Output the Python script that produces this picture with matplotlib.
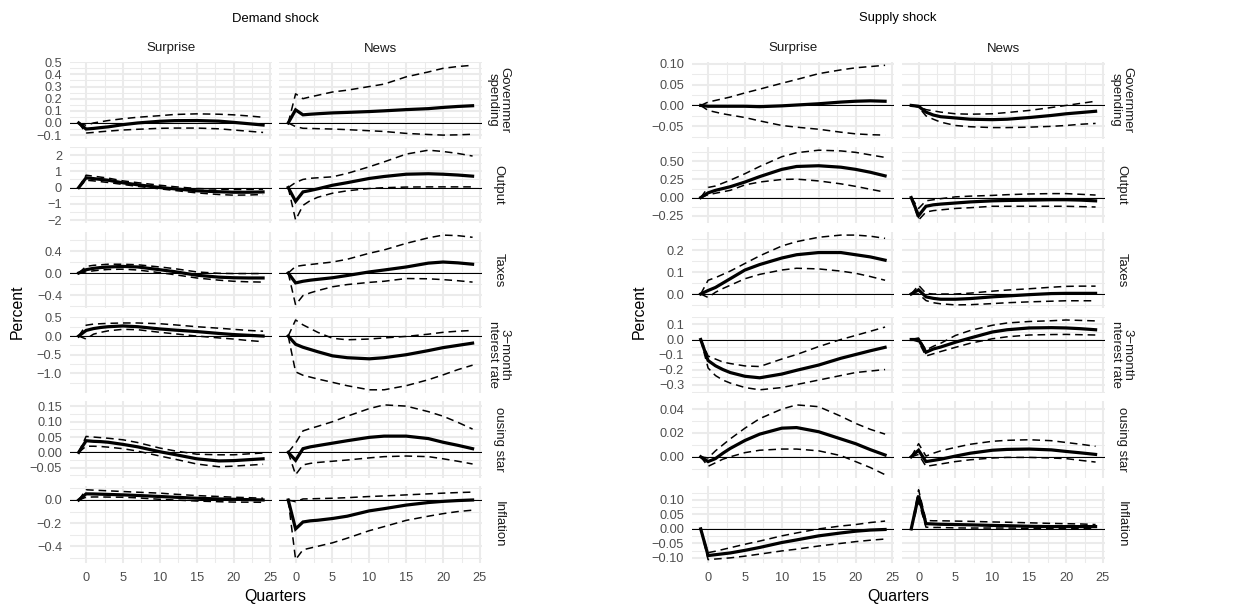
import matplotlib
matplotlib.use("Agg")
import matplotlib.pyplot as plt
from matplotlib.ticker import FixedLocator

plt.rcParams['font.family'] = ['Liberation Sans', 'DejaVu Sans']

# Impulse responses: point estimate plus lower/upper bands, quarters -1..24
quarters = [-1, 0, 1, 2, 3, 5, 7, 10, 12, 15, 18, 20, 22, 24]

# ---- Demand shock, surprise ----
dem_sur_gov = [0, -0.05, -0.045, -0.038, -0.032, -0.014, 0.0, 0.014, 0.019, 0.02, 0.015, 0.005, -0.006, -0.017]
dem_sur_gov_lo = [0, -0.083, -0.078, -0.072, -0.067, -0.058, -0.052, -0.044, -0.042, -0.042, -0.048, -0.058, -0.068, -0.078]
dem_sur_gov_hi = [0, -0.02, 0.0, 0.01, 0.02, 0.035, 0.047, 0.06, 0.07, 0.075, 0.072, 0.067, 0.058, 0.047]
dem_sur_out = [0, 0.6, 0.55, 0.5, 0.45, 0.29, 0.17, 0.0, -0.08, -0.2, -0.26, -0.29, -0.29, -0.27]
dem_sur_out_lo = [0, 0.45, 0.41, 0.36, 0.31, 0.19, 0.07, -0.08, -0.18, -0.33, -0.43, -0.47, -0.46, -0.43]
dem_sur_out_hi = [0, 0.76, 0.7, 0.64, 0.58, 0.41, 0.3, 0.14, 0.05, -0.06, -0.1, -0.12, -0.12, -0.1]
dem_sur_tax = [0, 0.06, 0.085, 0.1, 0.11, 0.12, 0.11, 0.06, 0.025, -0.04, -0.075, -0.086, -0.09, -0.09]
dem_sur_tax_lo = [0, 0.02, 0.04, 0.055, 0.065, 0.07, 0.055, 0.006, -0.03, -0.09, -0.13, -0.15, -0.16, -0.165]
dem_sur_tax_hi = [0, 0.12, 0.14, 0.15, 0.16, 0.16, 0.15, 0.11, 0.08, 0.02, -0.005, -0.01, -0.01, -0.01]
dem_sur_rate = [0, 0.15, 0.2, 0.23, 0.25, 0.27, 0.25, 0.19, 0.16, 0.12, 0.07, 0.04, 0.02, 0.0]
dem_sur_rate_lo = [0, -0.08, 0.05, 0.1, 0.14, 0.18, 0.17, 0.1, 0.06, 0.0, -0.05, -0.08, -0.12, -0.15]
dem_sur_rate_hi = [0, 0.29, 0.32, 0.33, 0.34, 0.35, 0.35, 0.33, 0.3, 0.25, 0.21, 0.18, 0.15, 0.13]
dem_sur_hous = [0, 0.038, 0.036, 0.035, 0.033, 0.026, 0.018, 0.002, -0.007, -0.021, -0.028, -0.027, -0.024, -0.021]
dem_sur_hous_lo = [0, 0.02, 0.02, 0.019, 0.017, 0.012, 0.004, -0.012, -0.022, -0.038, -0.047, -0.045, -0.042, -0.039]
dem_sur_hous_hi = [0, 0.052, 0.05, 0.048, 0.046, 0.041, 0.032, 0.014, 0.005, -0.006, -0.008, -0.008, -0.005, -0.002]
dem_sur_infl = [0, 0.053, 0.052, 0.05, 0.048, 0.044, 0.039, 0.03, 0.024, 0.015, 0.009, 0.006, 0.003, 0.0]
dem_sur_infl_lo = [0, 0.024, 0.026, 0.026, 0.025, 0.024, 0.018, 0.006, 0.0, -0.009, -0.015, -0.018, -0.019, -0.02]
dem_sur_infl_hi = [0, 0.088, 0.085, 0.082, 0.079, 0.073, 0.067, 0.059, 0.05, 0.038, 0.03, 0.024, 0.02, 0.015]

# ---- Demand shock, news ----
dem_news_gov = [0, 0.108, 0.067, 0.072, 0.076, 0.083, 0.087, 0.094, 0.1, 0.11, 0.118, 0.128, 0.136, 0.142]
dem_news_gov_lo = [0, -0.03, -0.044, -0.045, -0.047, -0.05, -0.055, -0.064, -0.07, -0.086, -0.095, -0.1, -0.098, -0.093]
dem_news_gov_hi = [0, 0.24, 0.2, 0.215, 0.228, 0.255, 0.27, 0.3, 0.32, 0.38, 0.42, 0.45, 0.465, 0.475]
dem_news_out = [0, -0.85, -0.27, -0.18, -0.08, 0.14, 0.3, 0.56, 0.68, 0.82, 0.85, 0.82, 0.77, 0.7]
dem_news_out_lo = [0, -2.0, -1.1, -0.8, -0.6, -0.35, -0.2, -0.06, -0.01, 0.03, 0.04, 0.04, 0.04, 0.04]
dem_news_out_hi = [0, 0.31, 0.5, 0.57, 0.6, 0.66, 0.87, 1.28, 1.58, 2.06, 2.3, 2.22, 2.1, 1.94]
dem_news_tax = [0, -0.18, -0.15, -0.13, -0.115, -0.086, -0.045, 0.02, 0.055, 0.11, 0.18, 0.2, 0.185, 0.16]
dem_news_tax_lo = [0, -0.58, -0.41, -0.36, -0.32, -0.25, -0.21, -0.17, -0.15, -0.1, -0.105, -0.12, -0.14, -0.165]
dem_news_tax_hi = [0, 0.12, 0.14, 0.155, 0.17, 0.2, 0.25, 0.36, 0.42, 0.54, 0.64, 0.69, 0.68, 0.65]
dem_news_rate = [0, -0.22, -0.3, -0.36, -0.42, -0.53, -0.58, -0.61, -0.58, -0.5, -0.39, -0.31, -0.25, -0.19]
dem_news_rate_lo = [0, -0.96, -1.05, -1.1, -1.15, -1.24, -1.33, -1.44, -1.44, -1.33, -1.17, -1.04, -0.9, -0.78]
dem_news_rate_hi = [0, 0.43, 0.3, 0.2, 0.1, -0.06, -0.1, -0.08, -0.05, -0.01, 0.05, 0.1, 0.13, 0.15]
dem_news_hous = [0, -0.026, 0.012, 0.018, 0.022, 0.03, 0.038, 0.049, 0.053, 0.053, 0.045, 0.033, 0.023, 0.012]
dem_news_hous_lo = [0, -0.073, -0.041, -0.036, -0.033, -0.029, -0.025, -0.018, -0.014, -0.012, -0.014, -0.021, -0.029, -0.038]
dem_news_hous_hi = [0, 0.03, 0.07, 0.078, 0.085, 0.1, 0.118, 0.143, 0.155, 0.151, 0.133, 0.118, 0.098, 0.076]
dem_news_infl = [0, -0.25, -0.19, -0.18, -0.175, -0.16, -0.14, -0.094, -0.075, -0.044, -0.022, -0.012, -0.005, 0.0]
dem_news_infl_lo = [0, -0.515, -0.43, -0.415, -0.4, -0.37, -0.33, -0.265, -0.23, -0.176, -0.14, -0.118, -0.1, -0.088]
dem_news_infl_hi = [0, -0.015, 0.009, 0.01, 0.012, 0.015, 0.02, 0.03, 0.035, 0.044, 0.053, 0.059, 0.064, 0.068]

# ---- Supply shock, surprise ----
sup_sur_gov = [0, -0.002, -0.002, -0.002, -0.002, -0.002, -0.003, -0.001, 0.001, 0.004, 0.008, 0.01, 0.011, 0.01]
sup_sur_gov_lo = [0, -0.012, -0.016, -0.02, -0.023, -0.029, -0.037, -0.048, -0.052, -0.057, -0.064, -0.068, -0.07, -0.071]
sup_sur_gov_hi = [0, 0.008, 0.012, 0.016, 0.02, 0.03, 0.039, 0.053, 0.062, 0.076, 0.085, 0.09, 0.093, 0.096]
sup_sur_out = [0, 0.065, 0.1, 0.125, 0.15, 0.215, 0.29, 0.39, 0.43, 0.44, 0.42, 0.39, 0.35, 0.3]
sup_sur_out_lo = [0, 0.04, 0.06, 0.08, 0.1, 0.175, 0.215, 0.25, 0.255, 0.23, 0.19, 0.155, 0.115, 0.075]
sup_sur_out_hi = [0, 0.14, 0.16, 0.2, 0.24, 0.33, 0.43, 0.565, 0.62, 0.655, 0.645, 0.625, 0.59, 0.555]
sup_sur_tax = [0, 0.016, 0.03, 0.05, 0.07, 0.11, 0.135, 0.165, 0.18, 0.19, 0.19, 0.18, 0.17, 0.155]
sup_sur_tax_lo = [0, -0.016, 0.008, 0.025, 0.04, 0.07, 0.09, 0.11, 0.118, 0.115, 0.105, 0.095, 0.08, 0.063]
sup_sur_tax_hi = [0, 0.063, 0.075, 0.09, 0.105, 0.14, 0.175, 0.22, 0.24, 0.26, 0.27, 0.27, 0.265, 0.255]
sup_sur_rate = [0, -0.14, -0.175, -0.2, -0.22, -0.245, -0.255, -0.23, -0.205, -0.17, -0.125, -0.1, -0.075, -0.052]
sup_sur_rate_lo = [0, -0.19, -0.24, -0.27, -0.29, -0.32, -0.335, -0.32, -0.3, -0.27, -0.24, -0.22, -0.21, -0.2]
sup_sur_rate_hi = [0, -0.11, -0.13, -0.15, -0.16, -0.176, -0.18, -0.13, -0.1, -0.047, 0.0, 0.027, 0.055, 0.083]
sup_sur_hous = [0, -0.004, -0.0015, 0.003, 0.007, 0.0137, 0.019, 0.024, 0.0245, 0.021, 0.015, 0.011, 0.006, 0.0015]
sup_sur_hous_lo = [0, -0.008, -0.005, -0.002, 0.0, 0.0035, 0.0055, 0.0065, 0.0065, 0.005, 0.001, -0.004, -0.009, -0.015]
sup_sur_hous_hi = [0, -0.001, 0.005, 0.01, 0.015, 0.024, 0.032, 0.04, 0.0435, 0.042, 0.034, 0.028, 0.023, 0.019]
sup_sur_infl = [0, -0.092, -0.089, -0.086, -0.083, -0.074, -0.064, -0.047, -0.038, -0.024, -0.014, -0.008, -0.004, -0.002]
sup_sur_infl_lo = [0, -0.106, -0.104, -0.102, -0.1, -0.094, -0.087, -0.076, -0.07, -0.059, -0.05, -0.044, -0.039, -0.035]
sup_sur_infl_hi = [0, -0.082, -0.077, -0.071, -0.065, -0.053, -0.042, -0.024, -0.014, 0.0, 0.01, 0.015, 0.022, 0.027]

# ---- Supply shock, news ----
sup_news_gov = [0, -0.002, -0.016, -0.023, -0.027, -0.03, -0.033, -0.034, -0.033, -0.029, -0.024, -0.02, -0.017, -0.014]
sup_news_gov_lo = [0, -0.004, -0.025, -0.033, -0.04, -0.048, -0.051, -0.053, -0.053, -0.052, -0.05, -0.048, -0.045, -0.043]
sup_news_gov_hi = [0, -0.003, -0.01, -0.013, -0.016, -0.02, -0.021, -0.02, -0.017, -0.012, -0.005, 0.0, 0.005, 0.01]
sup_news_out = [0, -0.25, -0.12, -0.1, -0.09, -0.075, -0.06, -0.045, -0.04, -0.035, -0.03, -0.03, -0.035, -0.045]
sup_news_out_lo = [0, -0.31, -0.2, -0.18, -0.17, -0.15, -0.14, -0.12, -0.12, -0.12, -0.12, -0.12, -0.125, -0.13]
sup_news_out_hi = [0, -0.15, -0.045, -0.03, -0.015, 0.01, 0.02, 0.03, 0.04, 0.05, 0.055, 0.055, 0.045, 0.035]
sup_news_tax = [0, 0.019, -0.013, -0.02, -0.024, -0.024, -0.021, -0.013, -0.009, -0.003, 0.002, 0.003, 0.003, 0.003]
sup_news_tax_lo = [0, 0.0, -0.03, -0.04, -0.045, -0.05, -0.049, -0.044, -0.04, -0.036, -0.033, -0.031, -0.031, -0.031]
sup_news_tax_hi = [0, 0.04, 0.003, 0.0, 0.0, 0.0, 0.004, 0.013, 0.018, 0.024, 0.031, 0.035, 0.036, 0.036]
sup_news_rate = [0, 0.0, -0.085, -0.063, -0.05, -0.018, 0.01, 0.05, 0.065, 0.077, 0.079, 0.077, 0.072, 0.065]
sup_news_rate_lo = [0, -0.015, -0.11, -0.095, -0.08, -0.052, -0.025, 0.005, 0.018, 0.03, 0.033, 0.034, 0.032, 0.03]
sup_news_rate_hi = [0, 0.01, -0.07, -0.045, -0.025, 0.027, 0.06, 0.095, 0.11, 0.12, 0.125, 0.13, 0.127, 0.124]
sup_news_hous = [0, 0.0055, -0.004, -0.003, -0.002, 0.0006, 0.003, 0.0055, 0.0062, 0.0065, 0.0058, 0.0045, 0.0033, 0.002]
sup_news_hous_lo = [0, 0.002, -0.008, -0.007, -0.006, -0.004, -0.0025, -0.001, -0.0005, -0.0005, -0.001, -0.0015, -0.003, -0.0044]
sup_news_hous_hi = [0, 0.011, 0.0006, 0.003, 0.005, 0.0079, 0.0105, 0.013, 0.0138, 0.0143, 0.0135, 0.012, 0.0105, 0.0088]
sup_news_infl = [0, 0.115, 0.018, 0.017, 0.016, 0.015, 0.014, 0.012, 0.011, 0.009, 0.008, 0.008, 0.008, 0.008]
sup_news_infl_lo = [0, 0.095, 0.006, 0.005, 0.005, 0.0035, 0.003, 0.003, 0.003, 0.002, 0.002, 0.002, 0.002, 0.002]
sup_news_infl_hi = [0, 0.135, 0.029, 0.028, 0.028, 0.027, 0.026, 0.024, 0.023, 0.021, 0.019, 0.018, 0.017, 0.015]

# Facet labels and y breaks (break values, decimals shown)
row_labels = ['Governmer\nspending', 'Output', 'Taxes', '3\u2212month\nnterest rate', 'ousing star', 'Inflation']
col_labels = ['Surprise', 'News']
x_breaks = [0, 5, 10, 15, 20, 25]
dem_breaks = [([-0.1, 0.0, 0.1, 0.2, 0.3, 0.4, 0.5], 1),
              ([-2, -1, 0, 1, 2], 0),
              ([-0.4, 0.0, 0.4], 1),
              ([-1.0, -0.5, 0.0, 0.5], 1),
              ([-0.05, 0.0, 0.05, 0.10, 0.15], 2),
              ([-0.4, -0.2, 0.0], 1)]
sup_breaks = [([-0.05, 0.0, 0.05, 0.10], 2),
              ([-0.25, 0.0, 0.25, 0.50], 2),
              ([0.0, 0.1, 0.2], 1),
              ([-0.3, -0.2, -0.1, 0.0, 0.1], 1),
              ([0.0, 0.02, 0.04], 2),
              ([-0.10, -0.05, 0.0, 0.05, 0.10], 2)]

dem_series = [
    [(dem_sur_gov, dem_sur_gov_lo, dem_sur_gov_hi), (dem_news_gov, dem_news_gov_lo, dem_news_gov_hi)],
    [(dem_sur_out, dem_sur_out_lo, dem_sur_out_hi), (dem_news_out, dem_news_out_lo, dem_news_out_hi)],
    [(dem_sur_tax, dem_sur_tax_lo, dem_sur_tax_hi), (dem_news_tax, dem_news_tax_lo, dem_news_tax_hi)],
    [(dem_sur_rate, dem_sur_rate_lo, dem_sur_rate_hi), (dem_news_rate, dem_news_rate_lo, dem_news_rate_hi)],
    [(dem_sur_hous, dem_sur_hous_lo, dem_sur_hous_hi), (dem_news_hous, dem_news_hous_lo, dem_news_hous_hi)],
    [(dem_sur_infl, dem_sur_infl_lo, dem_sur_infl_hi), (dem_news_infl, dem_news_infl_lo, dem_news_infl_hi)],
]
sup_series = [
    [(sup_sur_gov, sup_sur_gov_lo, sup_sur_gov_hi), (sup_news_gov, sup_news_gov_lo, sup_news_gov_hi)],
    [(sup_sur_out, sup_sur_out_lo, sup_sur_out_hi), (sup_news_out, sup_news_out_lo, sup_news_out_hi)],
    [(sup_sur_tax, sup_sur_tax_lo, sup_sur_tax_hi), (sup_news_tax, sup_news_tax_lo, sup_news_tax_hi)],
    [(sup_sur_rate, sup_sur_rate_lo, sup_sur_rate_hi), (sup_news_rate, sup_news_rate_lo, sup_news_rate_hi)],
    [(sup_sur_hous, sup_sur_hous_lo, sup_sur_hous_hi), (sup_news_hous, sup_news_hous_lo, sup_news_hous_hi)],
    [(sup_sur_infl, sup_sur_infl_lo, sup_sur_infl_hi), (sup_news_infl, sup_news_infl_lo, sup_news_infl_hi)],
]

# Look
W, H, DPI = 1239, 605, 100
GRID = '#EBEBEB'
TICK_COLOR = '#4D4D4D'
STRIP_COLOR = '#1A1A1A'
SMALL = 9.2
PANEL_TOP, PANEL_H, ROW_STEP = 61.8, 76.8, 84.9
PANEL_W = 202.8


def fmt(v, d):
    s = f"{v:.{d}f}"
    if s.startswith('-'):
        s = '\u2212' + s[1:]
    return s


def minors(breaks):
    step = breaks[1] - breaks[0]
    pts = [b + step / 2 for b in breaks[:-1]]
    return [breaks[0] - step / 2] + pts + [breaks[-1] + step / 2]


def rect(left, top):
    return [left / W, 1 - (top + PANEL_H) / H, PANEL_W / W, PANEL_H / H]


fig = plt.figure(figsize=(W / DPI, H / DPI), dpi=DPI)


def draw_shock(title, lefts, series, breaks):
    for r in range(6):
        top = PANEL_TOP + r * ROW_STEP
        first = None
        for c in range(2):
            ax = fig.add_axes(rect(lefts[c], top), sharey=first)
            if first is None:
                first = ax
            est, lo, hi = series[r][c]
            ax.axhline(0, color='black', lw=0.75, zorder=2)
            ax.plot(quarters, lo, color='black', lw=1.1, ls=(0, (5, 3.2)), zorder=3)
            ax.plot(quarters, hi, color='black', lw=1.1, ls=(0, (5, 3.2)), zorder=3)
            ax.plot(quarters, est, color='black', lw=2.3, zorder=4, solid_joinstyle='miter')

            vals, dec = breaks[r]
            ax.yaxis.set_major_locator(FixedLocator(vals))
            ax.yaxis.set_minor_locator(FixedLocator(minors(vals)))
            ax.xaxis.set_major_locator(FixedLocator(x_breaks))
            ax.xaxis.set_minor_locator(FixedLocator([-2.5, 2.5, 7.5, 12.5, 17.5, 22.5]))
            ax.set_xlim(-2.25, 25.25)
            ax.grid(which='major', color=GRID, lw=1.5)
            ax.grid(which='minor', color=GRID, lw=0.75)
            ax.set_axisbelow(True)
            for s in ax.spines.values():
                s.set_visible(False)
            ax.tick_params(which='both', length=0, labelsize=SMALL, labelcolor=TICK_COLOR)
            ax.tick_params(axis='y', pad=5.4)
            ax.tick_params(axis='x', pad=6.2)
            if c == 0:
                ax.set_yticklabels([fmt(v, dec) for v in vals])
            else:
                ax.tick_params(axis='y', labelleft=False)
            if r < 5:
                ax.tick_params(axis='x', labelbottom=False)

            if r == 0:
                fig.text((lefts[c] + PANEL_W / 2) / W, 1 - 48.5 / H, col_labels[c],
                         ha='center', va='center', fontsize=9.5, color=STRIP_COLOR)
        fig.text((lefts[1] + PANEL_W + 17) / W, 1 - (top + PANEL_H / 2) / H, row_labels[r],
                 rotation=-90, ha='center', va='center', multialignment='center',
                 fontsize=9.5, color=STRIP_COLOR, linespacing=0.95)

    mid = (lefts[0] + lefts[1] + PANEL_W) / 2
    fig.text(mid / W, 1 - 18.5 / H, title, ha='center', va='center', fontsize=9.4, color='black')
    fig.text(mid / W, 1 - 597 / H, 'Quarters', ha='center', va='center', fontsize=11.4)
    fig.text((lefts[0] - 52) / W, 1 - 312 / H, 'Percent', rotation=90,
             ha='center', va='center', fontsize=11.4)


draw_shock('Demand shock', (69.5, 279.0), dem_series, dem_breaks)
draw_shock('Supply shock', (691.5, 902.0), sup_series, sup_breaks)

fig.savefig('out.png', dpi=DPI, facecolor='white')
